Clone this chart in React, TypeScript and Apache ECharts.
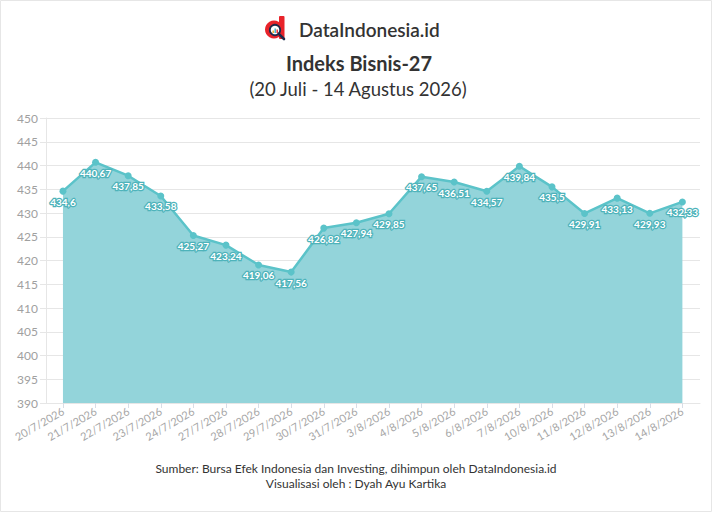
import React, { useEffect, useRef } from "react";
import * as echarts from "echarts";

const categories = [
  "20/7/2026", "21/7/2026", "22/7/2026", "23/7/2026", "24/7/2026",
  "27/7/2026", "28/7/2026", "29/7/2026", "30/7/2026", "31/7/2026",
  "3/8/2026", "4/8/2026", "5/8/2026", "6/8/2026", "7/8/2026",
  "10/8/2026", "11/8/2026", "12/8/2026", "13/8/2026", "14/8/2026",
];
const values = [
  434.6, 440.67, 437.85, 433.58, 425.27, 423.24, 419.06, 417.56, 426.82, 427.94,
  429.85, 437.65, 436.51, 434.57, 439.84, 435.5, 429.91, 433.13, 429.93, 432.33,
];
const yTicks = { min: 390, max: 450, interval: 5 };

const FONT = "Lato, 'Noto Sans', sans-serif";

export default function App() {
  const ref = useRef<HTMLDivElement>(null);
  useEffect(() => {
    document.body.style.margin = "0";
    const chart = echarts.init(ref.current!, null, { renderer: "svg" });
    const idx = categories.map((_, i) => i);
    chart.setOption({
      animation: false,
      backgroundColor: "#ffffff",
      textStyle: { fontFamily: FONT },
      grid: { left: 46, right: 12, top: 118, bottom: 109, containLabel: false },
      xAxis: {
        type: "value",
        min: -0.52,
        max: 19.54,
        axisLine: { show: true, onZero: false, lineStyle: { color: "#e6e6e6" } },
        axisTick: { show: true, customValues: idx, length: 5, lineStyle: { color: "#d8dde6" } },
        splitLine: { show: false },
        axisLabel: {
          customValues: idx,
          formatter: (v: number) => categories[Math.round(v)] ?? "",
          rotate: 30,
          color: "#a6a6a6",
          fontSize: 11,
          fontFamily: FONT,
          margin: 7,
        },
      },
      yAxis: {
        type: "value",
        min: yTicks.min,
        max: yTicks.max,
        interval: yTicks.interval,
        axisLine: { show: true, onZero: false, lineStyle: { color: "#e6e6e6" } },
        axisTick: { show: true, length: 6, lineStyle: { color: "#e6e6e6" } },
        splitLine: { show: true, lineStyle: { color: "#e6e6e6" } },
        axisLabel: { color: "#a0a0a0", fontSize: 12, margin: 8, fontFamily: FONT },
      },
      series: [
        {
          type: "line",
          data: values.map((v, i) => [i, v]),
          symbol: "circle",
          symbolSize: 7,
          itemStyle: { color: "#5bc3c9" },
          lineStyle: { color: "#5bc3c9", width: 2.5 },
          areaStyle: { color: "#93d4da", opacity: 1, origin: "start" },
          label: {
            show: true,
            position: "bottom",
            distance: 2,
            formatter: (p: any) => String(p.value[1]).replace(".", ","),
            color: "#ffffff",
            fontSize: 10,
            fontWeight: "bold",
            fontFamily: FONT,
            textBorderColor: "#4eb3ba",
            textBorderWidth: 2.5,
          },
        },
      ],
      graphic: [
        {
          type: "rect",
          shape: { x: 0.5, y: 0.5, width: 711, height: 511 },
          style: { fill: "none", stroke: "#e6e6e6", lineWidth: 1 },
          silent: true,
          z: -10,
        },
        // logo
        { type: "rect", shape: { x: 279, y: 16, width: 5.5, height: 23, r: 1 }, style: { fill: "#e8232a" } },
        { type: "circle", shape: { cx: 274, cy: 29.5, r: 9 }, style: { fill: "#e8232a" } },
        { type: "circle", shape: { cx: 275, cy: 30, r: 5.2 }, style: { fill: "#ffffff", stroke: "#1f2a4a", lineWidth: 1.8 } },
        { type: "rect", shape: { x: 272.5, y: 30.5, width: 1.4, height: 2.5 }, style: { fill: "#f2a81d" } },
        { type: "rect", shape: { x: 274.5, y: 28.5, width: 1.4, height: 4.5 }, style: { fill: "#3cb4c8" } },
        { type: "rect", shape: { x: 276.5, y: 29.5, width: 1.4, height: 3.5 }, style: { fill: "#e8232a" } },
        { type: "line", shape: { x1: 278.8, y1: 33.8, x2: 284, y2: 39 }, style: { stroke: "#1f2a4a", lineWidth: 2.6, lineCap: "round" } },
        {
          type: "text",
          x: 299,
          y: 29,
          style: {
            text: "DataIndonesia.id",
            fontFamily: FONT,
            fontSize: 19,
            fontWeight: 600,
            fill: "#333333",
            verticalAlign: "middle",
          },
        },
        {
          type: "text",
          x: 359,
          y: 63,
          style: {
            text: "Indeks Bisnis-27",
            fontFamily: FONT,
            fontSize: 20,
            fontWeight: "bold",
            fill: "#333333",
            align: "center",
            verticalAlign: "middle",
          },
        },
        {
          type: "text",
          x: 358,
          y: 89,
          style: {
            text: "(20 Juli - 14 Agustus 2026)",
            fontFamily: FONT,
            fontSize: 18.5,
            fill: "#333333",
            align: "center",
            verticalAlign: "middle",
          },
        },
        {
          type: "text",
          x: 356,
          y: 468,
          style: {
            text: "Sumber: Bursa Efek Indonesia dan Investing, dihimpun oleh DataIndonesia.id",
            fontFamily: FONT,
            fontSize: 12,
            fill: "#333333",
            align: "center",
            verticalAlign: "middle",
          },
        },
        {
          type: "text",
          x: 356,
          y: 483,
          style: {
            text: "Visualisasi oleh : Dyah Ayu Kartika",
            fontFamily: FONT,
            fontSize: 12,
            fill: "#333333",
            align: "center",
            verticalAlign: "middle",
          },
        },
      ],
    });
    return () => chart.dispose();
  }, []);
  return (
    <div
      ref={ref}
      style={{ position: "absolute", left: 0, top: 0, width: 712, height: 512 }}
    />
  );
}
